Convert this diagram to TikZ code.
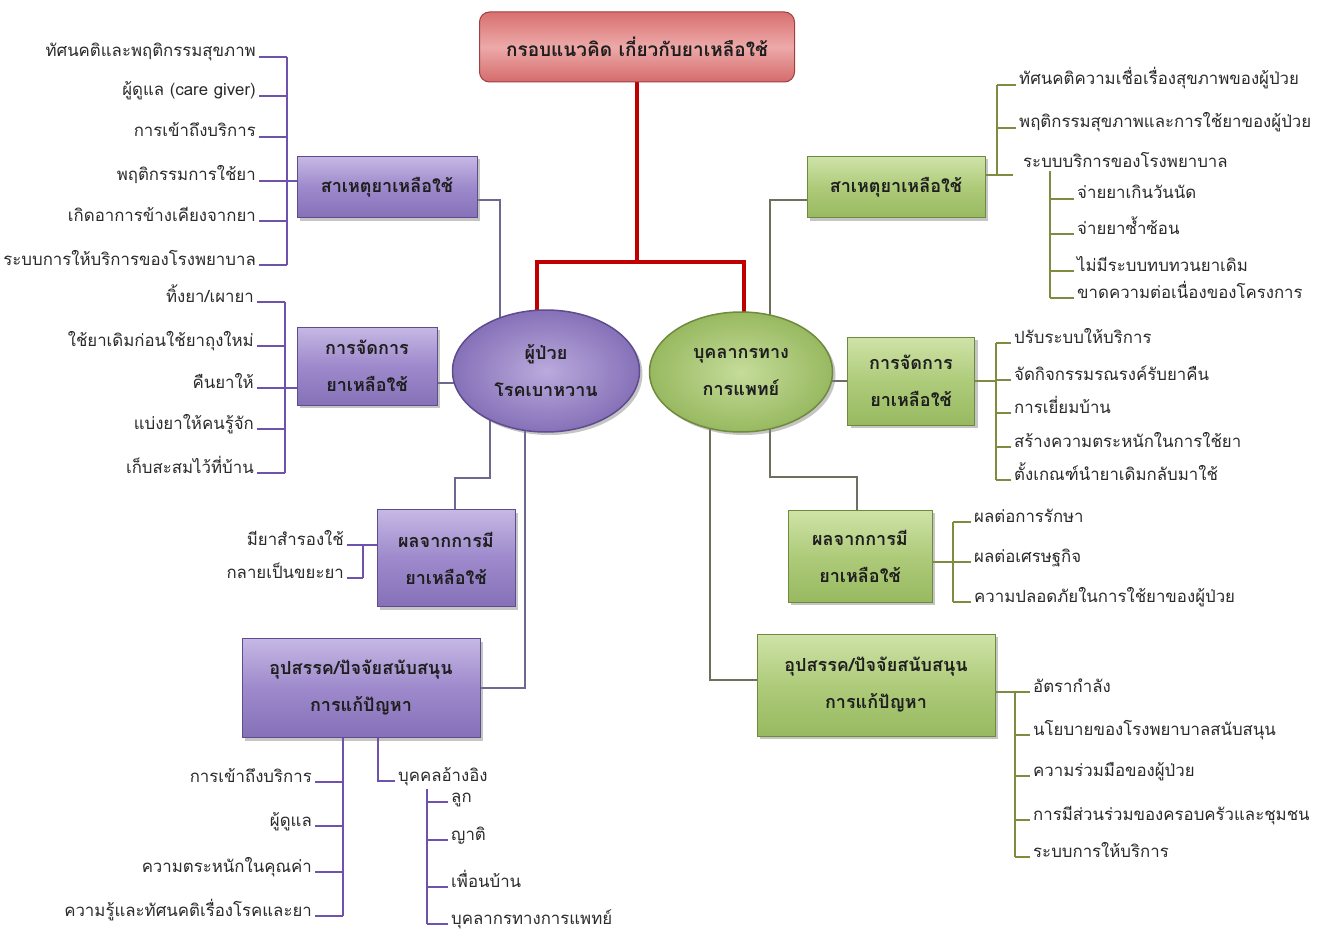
\documentclass[tikz,border=0pt]{standalone}
\usepackage{fontspec}
\setmainfont[Script=Thai]{Loma}
\usetikzlibrary{shapes.geometric,shadows,backgrounds}
\definecolor{purpTop}{HTML}{C6B8E4}
\definecolor{purpMid}{HTML}{9D89CB}
\definecolor{purpBot}{HTML}{8671B8}
\definecolor{purpEdge}{HTML}{5E4C8E}
\definecolor{grnTop}{HTML}{CFE3A8}
\definecolor{grnMid}{HTML}{AECB7A}
\definecolor{grnBot}{HTML}{98B960}
\definecolor{grnEdge}{HTML}{6E8A3E}
\definecolor{redTop}{HTML}{D97070}
\definecolor{redMid}{HTML}{EDA9A9}
\definecolor{redBot}{HTML}{D56B6B}
\definecolor{redEdge}{HTML}{9C4040}
\definecolor{redLine}{HTML}{C00000}
\definecolor{purpLine}{HTML}{6F52AC}
\definecolor{grnLine}{HTML}{7D8C3F}
\definecolor{pconnC}{HTML}{6C6890}
\definecolor{gconnC}{HTML}{6E705E}
\definecolor{boxText}{HTML}{1E1E1E}
\definecolor{leafText}{HTML}{2A2A2A}
\newcommand\bxfont{\fontsize{18}{37}\selectfont\bfseries}
\newcommand\lffont{\fontsize{16.8}{19}\selectfont}
\newcommand\ttlfont{\fontsize{19}{22}\selectfont\bfseries}
\tikzset{
  shbox/.style={drop shadow={shadow xshift=3pt,shadow yshift=-3pt,opacity=0.45}},
  pbox/.style={rectangle, draw=purpEdge, line width=0.8pt, top color=purpTop, bottom color=purpBot, middle color=purpMid, shbox, font=\bxfont, text=boxText, align=center, inner sep=2pt},
  gbox/.style={rectangle, draw=grnEdge, line width=0.8pt, top color=grnTop, bottom color=grnBot, middle color=grnMid, shbox, font=\bxfont, text=boxText, align=center, inner sep=2pt},
  pell/.style={ellipse, draw=purpEdge, line width=1.5pt, inner color=purpTop!70!purpMid, outer color=purpBot, shbox, font=\bxfont, text=boxText, align=center, inner sep=0pt},
  gell/.style={ellipse, draw=grnEdge, line width=1.5pt, inner color=grnTop!70!grnMid, outer color=grnBot, shbox, font=\bxfont, text=boxText, align=center, inner sep=0pt},
  ttlbox/.style={rectangle, rounded corners=10pt, draw=redEdge, line width=1pt, top color=redTop, bottom color=redBot, middle color=redMid, font=\ttlfont, text=boxText},
  leafL/.style={anchor=base east, font=\lffont, text=leafText, inner sep=3pt},
  leafR/.style={anchor=base west, font=\lffont, text=leafText, inner sep=3pt},
  redln/.style={draw=redLine, line width=4pt},
  pconn/.style={draw=pconnC, line width=1.3pt},
  gconn/.style={draw=gconnC, line width=1.3pt},
  pleaf/.style={draw=purpLine, line width=1.8pt},
  gleaf/.style={draw=grnLine, line width=1.5pt},
}
\begin{document}
\begin{tikzpicture}[x=1pt,y=-1pt]
\useasboundingbox (0,0) rectangle (1327,944);

% title and main nodes
\node[ttlbox, minimum width=315pt, minimum height=70pt] (title) at (637,47) {กรอบแนวคิด เกี่ยวกับยาเหลือใช้};
\node[pell, minimum width=187pt, minimum height=122pt] (pat) at (546,371) {ผู้ป่วย\\โรคเบาหวาน};
\node[gell, minimum width=183pt, minimum height=120pt] (med) at (741,372) {บุคลากรทาง\\การแพทย์};

% purple boxes
\node[pbox, minimum width=180pt, minimum height=61pt] (pcause) at (387,187) {สาเหตุยาเหลือใช้};
\node[pbox, minimum width=140pt, minimum height=78pt] (pmgmt) at (367,366) {การจัดการ\\ยาเหลือใช้};
\node[pbox, minimum width=138pt, minimum height=97pt] (pres) at (446,558) {ผลจากการมี\\ยาเหลือใช้};
\node[pbox, minimum width=238pt, minimum height=99pt] (pobs) at (361,688) {อุปสรรค/ปัจจัยสนับสนุน\\การแก้ปัญหา};

% green boxes
\node[gbox, minimum width=178pt, minimum height=61pt] (mcause) at (896,187) {สาเหตุยาเหลือใช้};
\node[gbox, minimum width=127pt, minimum height=88pt] (mmgmt) at (911,381) {การจัดการ\\ยาเหลือใช้};
\node[gbox, minimum width=144pt, minimum height=92pt] (mres) at (860,556) {ผลจากการมี\\ยาเหลือใช้};
\node[gbox, minimum width=238pt, minimum height=102pt] (mobs) at (876,685) {อุปสรรค/ปัจจัยสนับสนุน\\การแก้ปัญหา};

% connectors behind nodes
\begin{scope}[on background layer]
\fill[white] (0,0) rectangle (1327,944);
\coordinate (rbar) at (637,262);
\coordinate (rl) at (537,262);
\coordinate (rr) at (744,262);
\draw[redln] (title.south) -- (rbar);
\draw[redln, line join=miter] (rl |- pat.center) -- (rl) -- (rr) -- (rr |- med.center);

\draw[pconn] ([yshift=-13pt]pcause.east) -| ([xshift=-46pt]pat.center);
\draw[pconn] ([yshift=-17pt]pmgmt.east) -- ([yshift=-12pt]pat.center);
\coordinate (pe) at (490,478);
\draw[pconn] (pe |- pat.center) -- (pe) -| ([xshift=9pt]pres.north);
\draw[pconn] ([xshift=-21pt]pat.center) |- (pobs.east);

\draw[gconn] ([xshift=29pt]med.center) |- ([yshift=-13pt]mcause.west);
\draw[gconn] (med.center |- mmgmt.west) -- (mmgmt.west);
\coordinate (me) at (770,477);
\draw[gconn] (me |- med.center) -- (me) -| ([xshift=-3pt]mres.north);
\draw[gconn] ([xshift=-31pt]med.center) |- ([yshift=5pt]mobs.west);
\end{scope}

% left: causes
\node[leafL] (lc1) at (259,57) {ทัศนคติและพฤติกรรมสุขภาพ};
\node[leafL] (lc2) at (259,96) {ผู้ดูแล (care giver)};
\node[leafL] (lc3) at (259,137) {การเข้าถึงบริการ};
\node[leafL] (lc4) at (259,181) {พฤติกรรมการใช้ยา};
\node[leafL] (lc5) at (259,221) {เกิดอาการข้างเคียงจากยา};
\node[leafL] (lc6) at (259,265) {ระบบการให้บริการของโรงพยาบาล};
\coordinate (lcb) at (287,0);
\foreach \n in {lc1,lc2,lc3,lc4,lc5,lc6} \draw[pleaf] (\n.base east) -- (\n.base east -| lcb);
\draw[pleaf] (lcb |- lc1.base east) -- (lcb |- lc6.base east);
\draw[pleaf] (lcb |- lc4.base east) -- (pcause.west |- lc4.base east);

% left: management
\node[leafL] (lm1) at (257,302) {ทิ้งยา/เผายา};
\node[leafL] (lm2) at (257,346) {ใช้ยาเดิมก่อนใช้ยาถุงใหม่};
\node[leafL] (lm3) at (257,388) {คืนยาให้};
\node[leafL] (lm4) at (257,429) {แบ่งยาให้คนรู้จัก};
\node[leafL] (lm5) at (257,473) {เก็บสะสมไว้ที่บ้าน};
\coordinate (lmb) at (285,0);
\foreach \n in {lm1,lm2,lm3,lm4,lm5} \draw[pleaf] (\n.base east) -- (\n.base east -| lmb);
\draw[pleaf] (lmb |- lm1.base east) -- (lmb |- lm5.base east);
\draw[pleaf] (lmb |- lm3.base east) -- (pmgmt.west |- lm3.base east);

% left: effects
\node[leafL] (le1) at (347,545) {มียาสำรองใช้};
\node[leafL] (le2) at (347,578) {กลายเป็นขยะยา};
\coordinate (leb) at (363,0);
\foreach \n in {le1,le2} \draw[pleaf] (\n.base east) -- (\n.base east -| leb);
\draw[pleaf] (leb |- le1.base east) -- (leb |- le2.base east);
\draw[pleaf] (leb |- le1.base east) -- (pres.west |- le1.base east);

% left: obstacles
\node[leafL] (lo1) at (315,782) {การเข้าถึงบริการ};
\node[leafL] (lo2) at (315,826) {ผู้ดูแล};
\node[leafL] (lo3) at (315,872) {ความตระหนักในคุณค่า};
\node[leafL] (lo4) at (315,916) {ความรู้และทัศนคติเรื่องโรคและยา};
\coordinate (lob) at (343,0);
\foreach \n in {lo1,lo2,lo3,lo4} \draw[pleaf] (\n.base east) -- (\n.base east -| lob);
\draw[pleaf] (lob |- pobs.south) -- (lob |- lo4.base east);

\node[leafR] (lr) at (395,781) {บุคคลอ้างอิง};
\coordinate (lrx) at (378,0);
\draw[pleaf] (lrx |- pobs.south) -- (lrx |- lr.base west) -- (lr.base west);
\node[leafR] (lrs1) at (448,802) {ลูก};
\node[leafR] (lrs2) at (448,840) {ญาติ};
\node[leafR] (lrs3) at (448,887) {เพื่อนบ้าน};
\node[leafR] (lrs4) at (448,924) {บุคลากรทางการแพทย์};
\coordinate (lsb) at (427,0);
\foreach \n in {lrs1,lrs2,lrs3,lrs4} \draw[pleaf] (\n.base west) -- (\n.base west -| lsb);
\draw[pleaf] (lsb |- lr.south) -- (lsb |- lrs4.base west);

% right: causes
\node[leafR] (rc1) at (1016,85) {ทัศนคติความเชื่อเรื่องสุขภาพของผู้ป่วย};
\node[leafR] (rc2) at (1016,128) {พฤติกรรมสุขภาพและการใช้ยาของผู้ป่วย};
\node[leafR] (rc3) at (1020,168) {ระบบบริการของโรงพยาบาล};
\coordinate (rcb) at (997,0);
\coordinate (rce) at (1013,175);
\foreach \n in {rc1,rc2} \draw[gleaf] (\n.base west) -- (\n.base west -| rcb);
\draw[gleaf] (rcb |- rc1.base west) -- (rcb |- rce);
\draw[gleaf] (mcause.east |- rce) -- (rce);
\node[leafR] (rs1) at (1074,199) {จ่ายยาเกินวันนัด};
\node[leafR] (rs2) at (1074,234) {จ่ายยาซ้ำซ้อน};
\node[leafR] (rs3) at (1074,271) {ไม่มีระบบทบทวนยาเดิม};
\node[leafR] (rs4) at (1074,298) {ขาดความต่อเนื่องของโครงการ};
\coordinate (rsb) at (1050,0);
\foreach \n in {rs1,rs2,rs3,rs4} \draw[gleaf] (\n.base west) -- (\n.base west -| rsb);
\draw[gleaf] (rsb |- rc3.south) -- (rsb |- rs4.base west);

% right: management
\node[leafR] (rm1) at (1011,343) {ปรับระบบให้บริการ};
\node[leafR] (rm2) at (1011,380) {จัดกิจกรรมรณรงค์รับยาคืน};
\node[leafR] (rm3) at (1011,413) {การเยี่ยมบ้าน};
\node[leafR] (rm4) at (1011,447) {สร้างความตระหนักในการใช้ยา};
\node[leafR] (rm5) at (1011,480) {ตั้งเกณฑ์นำยาเดิมกลับมาใช้};
\coordinate (rmb) at (996,0);
\foreach \n in {rm1,rm2,rm3,rm4,rm5} \draw[gleaf] (\n.base west) -- (\n.base west -| rmb);
\draw[gleaf] (rmb |- rm1.base west) -- (rmb |- rm5.base west);
\draw[gleaf] (mmgmt.east) -- (rmb |- mmgmt.east);

% right: effects
\node[leafR] (re1) at (971,522) {ผลต่อการรักษา};
\node[leafR] (re2) at (971,562) {ผลต่อเศรษฐกิจ};
\node[leafR] (re3) at (971,602) {ความปลอดภัยในการใช้ยาของผู้ป่วย};
\coordinate (reb) at (953,0);
\foreach \n in {re1,re2,re3} \draw[gleaf] (\n.base west) -- (\n.base west -| reb);
\draw[gleaf] (reb |- re1.base west) -- (reb |- re3.base west);
\draw[gleaf] (mres.east |- re2.base west) -- (reb |- re2.base west);

% right: obstacles
\node[leafR] (ro1) at (1030,692) {อัตรากำลัง};
\node[leafR] (ro2) at (1030,735) {นโยบายของโรงพยาบาลสนับสนุน};
\node[leafR] (ro3) at (1030,776) {ความร่วมมือของผู้ป่วย};
\node[leafR] (ro4) at (1030,820) {การมีส่วนร่วมของครอบครัวและชุมชน};
\node[leafR] (ro5) at (1030,857) {ระบบการให้บริการ};
\coordinate (rob) at (1015,0);
\foreach \n in {ro2,ro3,ro4,ro5} \draw[gleaf] (\n.base west) -- (\n.base west -| rob);
\draw[gleaf] (rob |- ro1.base west) -- (rob |- ro5.base west);
\draw[gleaf] (mobs.east |- ro1.base west) -- (ro1.base west);
\end{tikzpicture}
\end{document}
